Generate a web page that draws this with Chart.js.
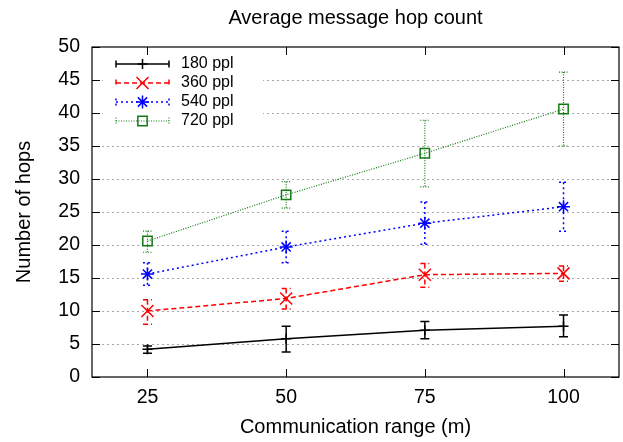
<!DOCTYPE html>
<html>
<head>
<meta charset="utf-8">
<script src="https://cdn.jsdelivr.net/npm/chart.js@4.4.0/dist/chart.umd.min.js"></script>
<style>
  html, body { margin: 0; padding: 0; background: #fff; }
  canvas { display: block; }
</style>
</head>
<body>
<canvas id="hops" width="623" height="442"></canvas>
<script>
// data
const ranges = [25, 50, 75, 100];
const seriesNames = ['180 ppl', '360 ppl', '540 ppl', '720 ppl'];

const hops180 = [4.2, 5.8, 7.1, 7.7];
const lo180 = [3.6, 3.8, 5.8, 6.1];
const hi180 = [4.7, 7.7, 8.4, 9.4];

const hops360 = [10.0, 11.9, 15.5, 15.7];
const lo360 = [8.0, 10.3, 13.6, 14.5];
const hi360 = [11.7, 13.4, 17.2, 16.8];

const hops540 = [15.6, 19.7, 23.3, 25.8];
const lo540 = [13.9, 17.3, 20.1, 22.1];
const hi540 = [17.3, 22.1, 26.5, 29.5];

const hops720 = [20.6, 27.6, 33.9, 40.6];
const lo720 = [18.9, 25.6, 28.8, 35.0];
const hi720 = [22.1, 29.6, 38.9, 46.2];

const xTicks = [25, 50, 75, 100];
const yTicks = [0, 5, 10, 15, 20, 25, 30, 35, 40, 45, 50];

const FONT = "'Liberation Sans', Arial, Helvetica, sans-serif";
Chart.defaults.font.family = FONT;
Chart.defaults.color = '#000';

const pts = (ys) => ranges.map((x, i) => ({ x, y: ys[i] }));

const mkSet = (label, ys, lo, hi, color, dash, width, style, radius) => ({
  label, data: pts(ys), errLo: lo, errHi: hi,
  borderColor: color, borderWidth: width, borderDash: dash,
  pointStyle: style, pointRadius: radius, pointHoverRadius: radius,
  pointBorderColor: color, pointBackgroundColor: 'rgba(0,0,0,0)',
  pointBorderWidth: 1.5, tension: 0, fill: false
});

const datasets = [
  mkSet(seriesNames[0], hops180, lo180, hi180, '#000000', [], 1.5, 'cross', 5),
  mkSet(seriesNames[1], hops360, lo360, hi360, '#ff0000', [5, 3], 1.5, 'crossRot', 8.5),
  mkSet(seriesNames[2], hops540, lo540, hi540, '#0000ff', [2, 3], 1.5, 'star', 6.5),
  mkSet(seriesNames[3], hops720, lo720, hi720, '#137a13', [1, 1.5], 1.2, 'rect', 6.6)
];

// dotted grid, white key box
const backdrop = {
  id: 'backdrop',
  beforeDatasetsDraw(chart) {
    const { ctx, chartArea: a, scales: { y } } = chart;
    ctx.save();
    ctx.strokeStyle = '#a8a8a8';
    ctx.lineWidth = 1;
    ctx.setLineDash([2, 3]);
    yTicks.forEach(v => {
      if (v === 0 || v === 50) return;
      const py = Math.round(y.getPixelForValue(v)) + 0.5;
      ctx.beginPath();
      ctx.moveTo(a.left, py);
      ctx.lineTo(a.right, py);
      ctx.stroke();
    });
    ctx.setLineDash([]);
    ctx.fillStyle = '#fff';
    ctx.fillRect(a.left + 11, a.top + 3, 160, 83);
    ctx.restore();
  }
};

// error bars, frame, inward ticks, key
const overlay = {
  id: 'overlay',
  afterDatasetsDraw(chart) {
    const { ctx, chartArea: a, scales: { x, y } } = chart;
    ctx.save();
    chart.data.datasets.forEach((ds, di) => {
      const meta = chart.getDatasetMeta(di);
      ctx.strokeStyle = ds.borderColor;
      ctx.lineWidth = ds.borderWidth;
      ctx.setLineDash(ds.borderDash);
      meta.data.forEach((pt, i) => {
        const px = pt.x;
        const top = y.getPixelForValue(ds.errHi[i]);
        const bot = y.getPixelForValue(ds.errLo[i]);
        ctx.beginPath();
        ctx.moveTo(px, top); ctx.lineTo(px, bot);
        ctx.moveTo(px - 4.5, top); ctx.lineTo(px + 4.5, top);
        ctx.moveTo(px - 4.5, bot); ctx.lineTo(px + 4.5, bot);
        ctx.stroke();
      });
    });

    // frame
    ctx.setLineDash([]);
    ctx.strokeStyle = '#000';
    ctx.lineWidth = 1.2;
    ctx.strokeRect(a.left, a.top, a.right - a.left, a.bottom - a.top);
    ctx.lineWidth = 1;
    ctx.beginPath();
    yTicks.forEach(v => {
      const py = Math.round(y.getPixelForValue(v)) + 0.5;
      ctx.moveTo(a.left, py); ctx.lineTo(a.left + 8, py);
      ctx.moveTo(a.right, py); ctx.lineTo(a.right - 8, py);
    });
    xTicks.forEach(v => {
      const px = Math.round(x.getPixelForValue(v)) + 0.5;
      ctx.moveTo(px, a.bottom); ctx.lineTo(px, a.bottom - 8);
      ctx.moveTo(px, a.top); ctx.lineTo(px, a.top + 8);
    });
    ctx.stroke();

    // key
    const x0 = a.left + 24, x1 = a.left + 77, xm = (x0 + x1) / 2;
    ctx.font = '16px ' + FONT;
    ctx.textBaseline = 'middle';
    ctx.textAlign = 'left';
    chart.data.datasets.forEach((ds, di) => {
      const ry = a.top + 17 + di * 19;
      ctx.strokeStyle = ds.borderColor;
      ctx.lineWidth = ds.borderWidth;
      ctx.setLineDash(ds.borderDash);
      ctx.beginPath();
      ctx.moveTo(x0, ry); ctx.lineTo(x1, ry);
      ctx.moveTo(x0, ry - 3.5); ctx.lineTo(x0, ry + 3.5);
      ctx.moveTo(x1, ry - 3.5); ctx.lineTo(x1, ry + 3.5);
      ctx.stroke();
      ctx.setLineDash([]);
      ctx.lineWidth = ds.pointBorderWidth;
      ctx.fillStyle = 'rgba(0,0,0,0)';
      Chart.helpers.drawPoint(ctx, {
        pointStyle: ds.pointStyle, radius: ds.pointRadius, rotation: 0,
        borderWidth: ds.pointBorderWidth
      }, xm, ry);
      ctx.fillStyle = '#000';
      ctx.fillText(ds.label, a.left + 89, ry);
    });
    ctx.restore();
  }
};

new Chart(document.getElementById('hops'), {
  type: 'line',
  data: { datasets },
  options: {
    responsive: false,
    animation: false,
    layout: { autoPadding: false, padding: { left: 0, right: 4, top: 0, bottom: 0 } },
    plugins: {
      legend: { display: false },
      tooltip: { enabled: false },
      title: {
        display: true,
        fullSize: false,
        text: 'Average message hop count',
        font: { size: 20, weight: 'normal' },
        color: '#000',
        padding: { top: 6, bottom: 17 }
      }
    },
    scales: {
      x: {
        type: 'linear',
        min: 15, max: 110,
        afterBuildTicks: (s) => { s.ticks = xTicks.map(value => ({ value })); },
        afterFit: (s) => { s.height = 65; },
        grid: { display: false, drawTicks: false },
        border: { display: false },
        ticks: { font: { size: 19.5 }, color: '#000', padding: 9, maxRotation: 0 },
        title: {
          display: true, text: 'Communication range (m)',
          font: { size: 20 }, color: '#000', padding: { top: 0, bottom: 3 }
        }
      },
      y: {
        min: 0, max: 50,
        afterBuildTicks: (s) => { s.ticks = yTicks.map(value => ({ value })); },
        afterFit: (s) => { s.width = 92; },
        grid: { display: false, drawTicks: false },
        border: { display: false },
        ticks: { font: { size: 19.5 }, color: '#000', padding: 12 },
        title: {
          display: true, text: 'Number of hops',
          font: { size: 20 }, color: '#000', padding: { top: 12, bottom: 0 }
        }
      }
    }
  },
  plugins: [backdrop, overlay]
});
</script>
</body>
</html>
